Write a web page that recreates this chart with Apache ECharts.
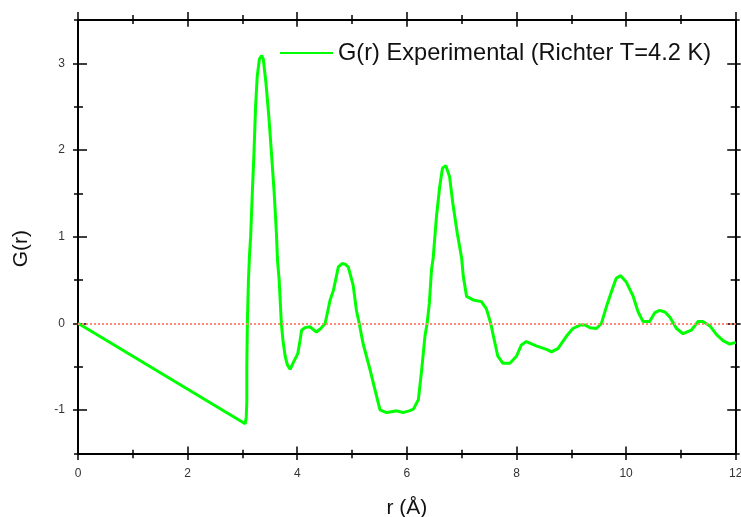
<!DOCTYPE html>
<html>
<head>
<meta charset="utf-8">
<script src="https://cdn.jsdelivr.net/npm/echarts@6/dist/echarts.min.js"></script>
<style>html,body{margin:0;padding:0;background:#fff}#c{width:741px;height:517px}</style>
</head>
<body>
<div id="c"></div>
<script>
// ---- data ----
var rValues = [0,3.05,3.07,3.08,3.08,3.09,3.11,3.13,3.15,3.18,3.21,3.24,3.27,3.31,3.35,3.38,3.43,3.48,3.53,3.58,3.62,3.64,3.67,3.71,3.74,3.78,3.82,3.87,3.93,4.01,4.05,4.08,4.14,4.23,4.35,4.43,4.51,4.56,4.6,4.66,4.75,4.82,4.88,4.93,5.02,5.08,5.13,5.2,5.33,5.42,5.51,5.63,5.72,5.81,5.93,6.04,6.12,6.21,6.27,6.33,6.37,6.41,6.45,6.48,6.54,6.6,6.65,6.71,6.78,6.84,6.92,7.0,7.03,7.09,7.21,7.36,7.45,7.53,7.57,7.66,7.75,7.88,8.0,8.09,8.18,8.36,8.55,8.64,8.76,8.91,9.03,9.16,9.25,9.34,9.46,9.55,9.64,9.73,9.82,9.9,10.0,10.13,10.22,10.31,10.43,10.52,10.61,10.71,10.8,10.92,11.04,11.19,11.31,11.4,11.53,11.65,11.77,11.89,12.0];
var gValues = [0,-1.16,-1.08,-0.9,-0.5,0,0.5,0.8,1.0,1.5,1.95,2.5,2.85,3.05,3.09,3.05,2.77,2.4,1.96,1.5,1.04,0.73,0.5,0,-0.2,-0.38,-0.48,-0.53,-0.45,-0.35,-0.2,-0.08,-0.05,-0.04,-0.1,-0.06,0,0.15,0.27,0.38,0.65,0.69,0.68,0.65,0.44,0.15,0,-0.23,-0.54,-0.77,-1.0,-1.03,-1.02,-1.01,-1.03,-1.01,-0.99,-0.88,-0.54,-0.15,0,0.23,0.62,0.75,1.23,1.58,1.79,1.82,1.69,1.38,1.04,0.75,0.54,0.31,0.27,0.25,0.17,0,-0.12,-0.38,-0.46,-0.46,-0.38,-0.25,-0.21,-0.26,-0.30,-0.33,-0.29,-0.15,-0.06,-0.02,-0.02,-0.05,-0.06,0,0.19,0.36,0.52,0.55,0.48,0.31,0.13,0.02,0.02,0.12,0.15,0.13,0.07,-0.06,-0.12,-0.08,0.02,0.02,-0.03,-0.13,-0.2,-0.24,-0.22];
var seriesName = 'G(r) Experimental (Richter T=4.2 K)';
var xTitle = 'r (Å)';
var yTitle = 'G(r)';
var xMin = 0, xMax = 12, xStep = 2;
var yMin = -1.5, yMax = 3.5, yMinorStep = 0.5;
var yMajorMin = -1, yMajorMax = 3, yMajorStep = 1;

var FONT = '"Liberation Sans", Arial, sans-serif';
var points = rValues.map(function (r, i) { return [r, gValues[i]]; });

var gridRect = { left: 78, right: 5.3, top: 20, bottom: 63.7 };
var gridMajor = { left: 78, right: 5.3, top: 63.35, bottom: 107 };
function g(o){ return Object.assign({containLabel:false, outerBoundsMode:'none'}, o); }

function xAx(grid, pos, inside, len, minorLen, showLine, showLabel) {
  return {
    type: 'value', gridIndex: grid, position: pos, min: xMin, max: xMax, interval: xStep,
    axisLine: { show: showLine, onZero: false, lineStyle: { color: '#000', width: 2 } },
    axisTick: { show: true, inside: inside, length: len, lineStyle: { color: '#000', width: 1.5 } },
    minorTick: { show: true, splitNumber: 2, length: minorLen, lineStyle: { color: '#000', width: 1.5 } },
    axisLabel: { show: showLabel, margin: 14, color: '#333', fontSize: 12, fontFamily: FONT },
    splitLine: { show: false }
  };
}
function yAx(grid, pos, mn, mx, step, inside, len, showLine, showLabel) {
  return {
    type: 'value', gridIndex: grid, position: pos, min: mn, max: mx, interval: step,
    axisLine: { show: showLine, onZero: false, lineStyle: { color: '#000', width: 2 } },
    axisTick: { show: true, inside: inside, length: len, lineStyle: { color: '#000', width: 1.5 } },
    axisLabel: { show: showLabel, margin: 13, color: '#333', fontSize: 12, fontFamily: FONT,
      formatter: function (v) { return Number.isInteger(v) ? String(v) : ''; } },
    splitLine: { show: false }
  };
}
function hiddenX(grid){ return { type:'value', gridIndex:grid, min:xMin, max:xMax, show:false, axisLine:{onZero:false} }; }

var xAxes = [
  Object.assign(xAx(0, 'bottom', true, 6.7, 3.5, true, true), {
    name: xTitle, nameLocation: 'middle', nameGap: 44,
    nameTextStyle: { fontSize: 21, fontFamily: FONT, color: '#111' }
  }),
  xAx(0, 'top', true, 6.7, 4, true, false),
  xAx(1, 'bottom', false, 6.7, 5, false, false),
  xAx(1, 'top', false, 8, 5, false, false),
  hiddenX(2),
  hiddenX(3)
];
var yAxes = [
  Object.assign(yAx(0, 'left', yMin, yMax, yMinorStep, true, 5, true, true), {
    name: yTitle, nameLocation: 'middle', nameGap: 46,
    nameTextStyle: { fontSize: 21, fontFamily: FONT, color: '#111', padding: [0, 24, 0, 0] }
  }),
  yAx(0, 'right', yMin, yMax, yMinorStep, true, 5, true, false),
  yAx(1, 'left', yMin, yMax, yMinorStep, false, 4, false, false),
  yAx(1, 'right', yMin, yMax, yMinorStep, false, 4, false, false),
  yAx(2, 'left', yMajorMin, yMajorMax, yMajorStep, true, 9, false, false),
  yAx(2, 'right', yMajorMin, yMajorMax, yMajorStep, true, 8.5, false, false),
  yAx(3, 'left', yMajorMin, yMajorMax, yMajorStep, false, 5, false, false),
  yAx(3, 'right', yMajorMin, yMajorMax, yMajorStep, false, 5, false, false)
];

var chart = echarts.init(document.getElementById('c'), null, { renderer: 'canvas' });
chart.setOption({
  animation: false,
  backgroundColor: '#fff',
  grid: [g(gridRect), g(gridRect), g(gridMajor), g(gridMajor)],
  xAxis: xAxes,
  yAxis: yAxes,
  legend: {
    show: true, left: 280, top: 41, padding: 0,
    itemWidth: 53, itemHeight: 14, itemGap: 5,
    textStyle: { fontSize: 23.6, fontFamily: FONT, color: '#111', lineHeight: 24 },
    data: [{ name: seriesName, icon: 'path://M0,6L53,6L53,8L0,8Z' }]
  },
  series: [{
    name: seriesName, type: 'line', xAxisIndex: 0, yAxisIndex: 0,
    data: points, showSymbol: false, symbol: 'none', smooth: false,
    lineStyle: { color: '#00ff00', width: 3 },
    itemStyle: { color: '#00ff00' },
    z: 3,
    markLine: {
      silent: true, symbol: 'none', label: { show: false },
      lineStyle: { color: '#ff8a76', width: 2, type: [2, 2] },
      data: [{ yAxis: 0 }]
    }
  }]
});
</script>
</body>
</html>
